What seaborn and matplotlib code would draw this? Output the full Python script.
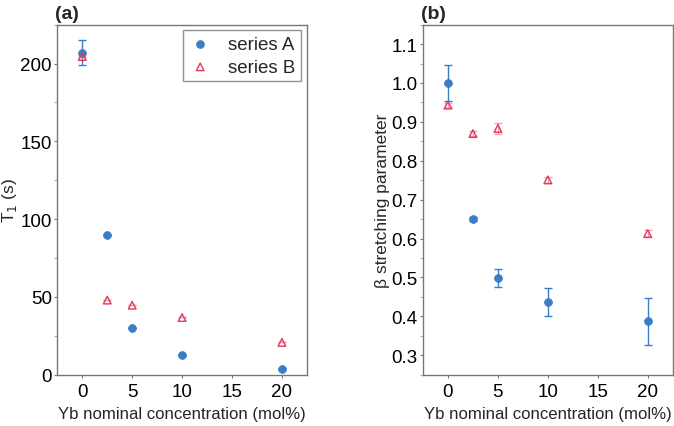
import numpy as np
import pandas as pd
import matplotlib
matplotlib.use("Agg")
import matplotlib.pyplot as plt
import seaborn as sns
from matplotlib.ticker import MultipleLocator

# Yb nominal concentration (mol%)
conc = [0, 2.5, 5, 10, 20]

# panel (a): T1 (s)
t1_a = [207, 89.5, 30, 13, 4]
t1_a_err = [8, 0, 0, 0, 0]
t1_b = [204.5, 48, 44.7, 36.8, 20.8]
t1_b_err = [0, 0, 0, 0, 0]

# panel (b): beta stretching parameter
beta_a = [1.0, 0.65, 0.498, 0.436, 0.387]
beta_a_err = [0.047, 0.006, 0.023, 0.036, 0.06]
beta_b = [0.943, 0.870, 0.883, 0.751, 0.613]
beta_b_err = [0.005, 0.006, 0.015, 0.007, 0.008]

blue = "#3a7cc6"
red = "#e03a5c"

sns.set_style("ticks")
plt.rcParams['font.family'] = ['Liberation Sans', 'DejaVu Sans']
plt.rcParams['font.size'] = 12

fig, (ax1, ax2) = plt.subplots(1, 2, figsize=(6.74, 4.27), dpi=100)
fig.subplots_adjust(left=0.085, right=0.998, bottom=0.12, top=0.94, wspace=0.465)


def draw(ax, ya, ya_err, yb, yb_err, legend):
    df = pd.DataFrame({
        "x": conc + conc,
        "y": ya + yb,
        "series": ["series A"] * len(conc) + ["series B"] * len(conc),
    })
    ax.errorbar(conc, ya, yerr=ya_err, fmt="none", ecolor=blue, elinewidth=1,
                capsize=3, capthick=1, zorder=1)
    ax.errorbar(conc, yb, yerr=yb_err, fmt="none", ecolor="#f0a0b0", elinewidth=1,
                capsize=3, capthick=1, zorder=1)
    sns.scatterplot(data=df[df.series == "series A"], x="x", y="y", ax=ax,
                    color=blue, marker="o", s=32, edgecolor=blue, linewidth=0.5,
                    label="series A" if legend else None, zorder=3)
    ax.scatter(conc, yb, marker="^", s=30, facecolor="none", edgecolor=red,
               linewidth=1, label="series B" if legend else None, zorder=4)
    ax.set_xlim(-2.5, 22.5)
    ax.set_xticks([0, 5, 10, 15, 20])
    ax.set_xlabel("Yb nominal concentration (mol%)", fontsize=12.1, labelpad=4.5)
    for s in ax.spines.values():
        s.set_color("#777777")
        s.set_linewidth(1)
    ax.tick_params(axis="both", colors="#777777", labelcolor="black",
                   labelsize=13.5, length=2.5, width=0.8, pad=1.5)
    ax.tick_params(axis="x", pad=3.5)
    ax.tick_params(axis="y", which="minor", colors="#999999", length=2, width=0.6)


draw(ax1, t1_a, t1_a_err, t1_b, t1_b_err, True)
ax1.set_ylim(0, 225)
ax1.yaxis.set_major_locator(MultipleLocator(50))
ax1.yaxis.set_minor_locator(MultipleLocator(25))
ax1.set_ylabel("T$_1$ (s)", fontsize=12.5, labelpad=1)
leg = ax1.legend(loc="upper right", frameon=True, fancybox=False, fontsize=13.5,
                 borderaxespad=0.3, handletextpad=0.9, handlelength=1.2,
                 borderpad=0.3, labelspacing=0.3, markerscale=1.0)
leg.get_frame().set_edgecolor("#777777")
leg.get_frame().set_linewidth(1)

draw(ax2, beta_a, beta_a_err, beta_b, beta_b_err, False)
ax2.set_ylim(0.25, 1.15)
ax2.yaxis.set_major_locator(MultipleLocator(0.1))
ax2.yaxis.set_minor_locator(MultipleLocator(0.05))
ax2.set_ylabel("β stretching parameter", fontsize=12.5, labelpad=1)
if ax2.get_legend() is not None:
    ax2.get_legend().remove()

ax1.set_title("(a)", loc="left", fontweight="bold", fontsize=14, x=-0.01, pad=5)
ax2.set_title("(b)", loc="left", fontweight="bold", fontsize=14, x=-0.01, pad=5)

fig.savefig("out.png", dpi=100)
